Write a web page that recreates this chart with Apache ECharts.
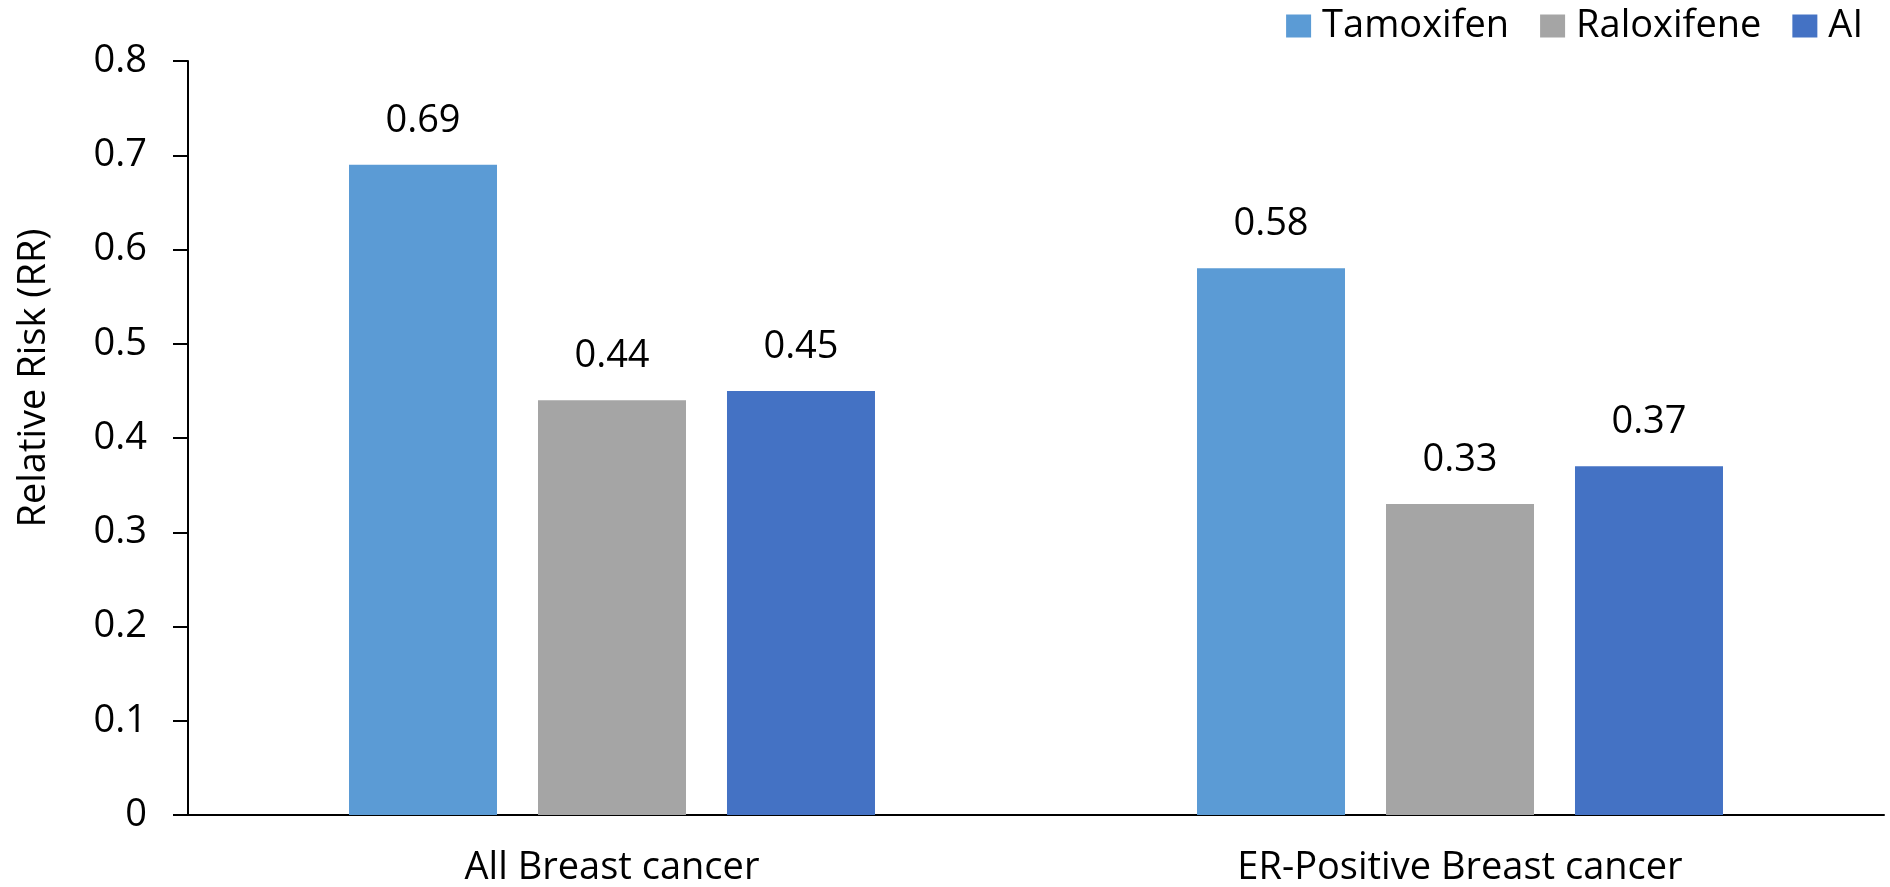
<!DOCTYPE html>
<html>
<head>
<meta charset="utf-8">
<script src="https://cdn.jsdelivr.net/npm/echarts@6/dist/echarts.min.js"></script>
<style>
  html, body { margin: 0; padding: 0; background: #fff; }
  #chart { width: 1890px; height: 887px; }
</style>
</head>
<body>
<div id="chart"></div>
<script>
const categories = ["All Breast cancer", "ER-Positive Breast cancer"];
const tamoxifen = [0.69, 0.58];
const raloxifene = [0.44, 0.33];
const aromataseInhibitor = [0.45, 0.37];
const yTicks = { min: 0, max: 0.8, step: 0.1 };

const FONT = "'Open Sans', 'Noto Sans', sans-serif";
const colors = ["#5B9BD5", "#A5A5A5", "#4472C4"];

const chart = echarts.init(document.getElementById("chart"));

const barLabel = {
  show: true,
  position: "top",
  distance: 25,
  color: "#000",
  fontSize: 38,
  fontFamily: FONT,
  formatter: (p) => p.value.toFixed(2)
};

const makeSeries = (name, data, color) => ({
  name,
  type: "bar",
  data,
  barWidth: 148,
  barGap: "27.7%",
  itemStyle: { color },
  label: barLabel
});

chart.setOption({
  backgroundColor: "#fff",
  animation: false,
  color: colors,
  textStyle: { fontFamily: FONT },

  legend: {
    right: 22,
    top: 2,
    itemWidth: 25,
    itemHeight: 23,
    itemGap: 31,
    icon: "rect",
    textStyle: { fontSize: 38, color: "#000", fontFamily: FONT, padding: [0, 0, 0, 6] },
    data: ["Tamoxifen", "Raloxifene", "AI"]
  },

  grid: { left: 188, right: 6, top: 61, bottom: 72 },

  xAxis: {
    type: "category",
    data: categories,
    axisLine: { lineStyle: { color: "#000", width: 2 } },
    axisTick: { show: false },
    axisLabel: { color: "#000", fontSize: 38, fontFamily: FONT, margin: 34 }
  },

  yAxis: {
    type: "value",
    min: yTicks.min,
    max: yTicks.max,
    interval: yTicks.step,
    name: "Relative Risk (RR)",
    nameLocation: "middle",
    nameGap: 135,
    nameTextStyle: { fontSize: 38, color: "#000", fontFamily: FONT, padding: [0, 0, 0, 120] },
    axisLine: { show: true, lineStyle: { color: "#000", width: 2 } },
    axisTick: { show: true, length: 15, lineStyle: { color: "#000", width: 2 } },
    axisLabel: { color: "#000", fontSize: 38, fontFamily: FONT, margin: 41 },
    splitLine: { show: false }
  },

  series: [
    makeSeries("Tamoxifen", tamoxifen, colors[0]),
    makeSeries("Raloxifene", raloxifene, colors[1]),
    makeSeries("AI", aromataseInhibitor, colors[2])
  ]
});

window.addEventListener("resize", () => chart.resize());
</script>
</body>
</html>
